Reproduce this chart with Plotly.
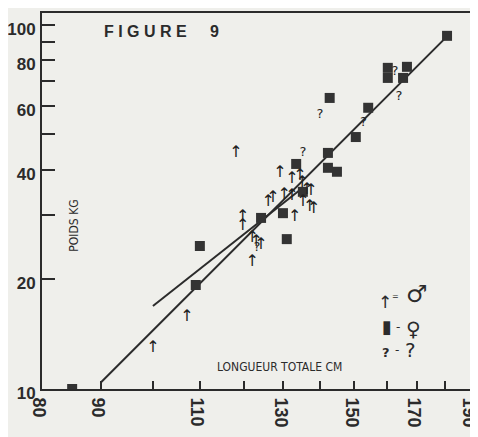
import plotly.graph_objects as go

# ---- data (longueur totale cm, poids kg) ----
female_len = [85.0, 109.0, 109.9, 124.3, 129.9, 130.9, 133.4, 135.2, 142.2, 142.2,
              144.8, 150.4, 142.7, 154.2, 160.4, 160.4, 166.7, 165.4, 180.7]
female_wt = [10.0, 19.3, 24.7, 29.5, 30.4, 25.8, 41.5, 34.8, 44.5, 40.5,
             39.5, 49.2, 63.0, 59.2, 76.2, 71.5, 76.7, 71.5, 93.3]

male_len = [100.0, 107.1, 118.2, 119.8, 119.8, 122.1, 123.1, 124.3, 122.1, 126.1,
            127.3, 129.1, 130.2, 132.3, 132.3, 134.4, 135.0, 136.3, 137.4, 135.2,
            133.0, 137.1, 138.2]
male_wt = [13.0, 15.8, 44.5, 29.7, 28.0, 26.0, 25.3, 24.9, 22.3, 32.7,
           33.5, 39.2, 34.1, 33.9, 37.8, 38.5, 36.8, 35.2, 35.0, 32.7,
           29.7, 31.6, 31.2]

unk_len = [135.2, 123.3, 139.9, 152.7, 164.0, 162.7]
unk_wt = [44.5, 24.5, 56.6, 53.8, 63.4, 74.3]

fit_all_len = [90.0, 180.7]
fit_all_wt = [10.4, 93.0]
fit_male_len = [100.0, 134.4]
fit_male_wt = [16.9, 35.2]

x_tickvals = [80, 90, 100, 110, 120, 130, 140, 150, 160, 170, 180, 190]
x_ticktext = ["80", "90", "", "110", "", "130", "", "150", "", "170", "", "190"]
y_tickvals = [10, 20, 30, 40, 50, 60, 70, 80, 90, 100]
y_ticktext = ["10", "20", "", "40", "", "60", "", "80", "", "100"]

INK = "#2b2b2b"
BG = "#efefeb"
SYM_FONT = "DejaVu Sans, sans-serif"
NARROW = "Liberation Sans Narrow, DejaVu Sans Condensed, sans-serif"

fig = go.Figure()

fig.add_trace(go.Scatter(x=fit_all_len, y=fit_all_wt, mode="lines",
                         line=dict(color=INK, width=2), showlegend=False, hoverinfo="skip"))
fig.add_trace(go.Scatter(x=fit_male_len, y=fit_male_wt, mode="lines",
                         line=dict(color=INK, width=2), showlegend=False, hoverinfo="skip"))

fig.add_trace(go.Scatter(x=female_len, y=female_wt, mode="markers", name="♀",
                         marker=dict(symbol="square", size=10, color="#333333"),
                         showlegend=False))
fig.add_trace(go.Scatter(x=male_len, y=male_wt, mode="text", name="♂",
                         text=["↑"] * len(male_len), textposition="middle center",
                         textfont=dict(family=SYM_FONT, size=16, color="#222222"),
                         showlegend=False))
fig.add_trace(go.Scatter(x=unk_len, y=unk_wt, mode="text", name="?",
                         text=["?"] * len(unk_len), textposition="middle center",
                         textfont=dict(family=SYM_FONT, size=13, color="#222222"),
                         showlegend=False))

def ann(text, x, y, size, family=SYM_FONT, weight="normal", angle=0):
    return dict(text=text, x=x, y=y, xref="paper", yref="paper", showarrow=False,
                xanchor="center", yanchor="middle", textangle=angle,
                font=dict(family=family, size=size, color=INK, weight=weight))

annotations = [
    ann("F I G U R E", 0.241, 0.951, 16, "Liberation Sans, Arial, sans-serif", "bold"),
    ann("9", 0.402, 0.951, 16, "Liberation Sans, Arial, sans-serif", "bold"),
    ann("POIDS KG", 0.074, 0.434, 12, NARROW, angle=-90),
    ann("LONGUEUR TOTALE CM", 0.553, 0.0585, 12, NARROW),
    ann("↑", 0.798, 0.232, 17),
    ann("=", 0.821, 0.245, 8),
    ann("♂", 0.872, 0.252, 24, "DejaVu Sans, sans-serif", "bold"),
    ann("▮", 0.802, 0.165, 18, "DejaVu Sans, sans-serif"),
    ann("-", 0.828, 0.165, 12),
    ann("♀", 0.863, 0.160, 20, "DejaVu Sans, sans-serif", "bold"),
    ann("?", 0.800, 0.098, 13, SYM_FONT, "bold"),
    ann("-", 0.826, 0.104, 12),
    ann("?", 0.858, 0.104, 20),
]

x_tick_font = dict(family="Liberation Sans, Arial, sans-serif", size=18, color=INK, weight="bold")
y_tick_font = dict(family="Liberation Sans, Arial, sans-serif", size=17, color=INK, weight="bold")

# page body adds an 8px offset, so the figure is sized to fit the window
fig.update_layout(
    width=470, height=429, autosize=False,
    margin=dict(l=34, r=6, t=5, b=48),
    paper_bgcolor=BG, plot_bgcolor=BG,
    showlegend=False,
    annotations=annotations,
    xaxis=dict(type="log", range=[1.90308, 2.27877], automargin=False,
               tickmode="array", tickvals=x_tickvals, ticktext=x_ticktext,
               ticks="inside", ticklen=8, tickwidth=1.5, tickcolor=INK,
               tickangle=90, tickfont=x_tick_font, ticklabelstandoff=3,
               ticklabelshift=-3, ticklabeloverflow="allow",
               showline=True, linecolor=INK, linewidth=2, mirror=True,
               showgrid=False, zeroline=False),
    yaxis=dict(type="log", range=[1.0, 2.0326], automargin=False,
               tickmode="array", tickvals=y_tickvals, ticktext=y_ticktext,
               ticks="inside", ticklen=13, tickwidth=1.5, tickcolor=INK,
               tickfont=y_tick_font, ticklabelstandoff=1, ticklabelshift=4,
               ticklabeloverflow="allow",
               showline=True, linecolor=INK, linewidth=2, mirror=True,
               showgrid=False, zeroline=False),
)

fig.write_html("out.html")
